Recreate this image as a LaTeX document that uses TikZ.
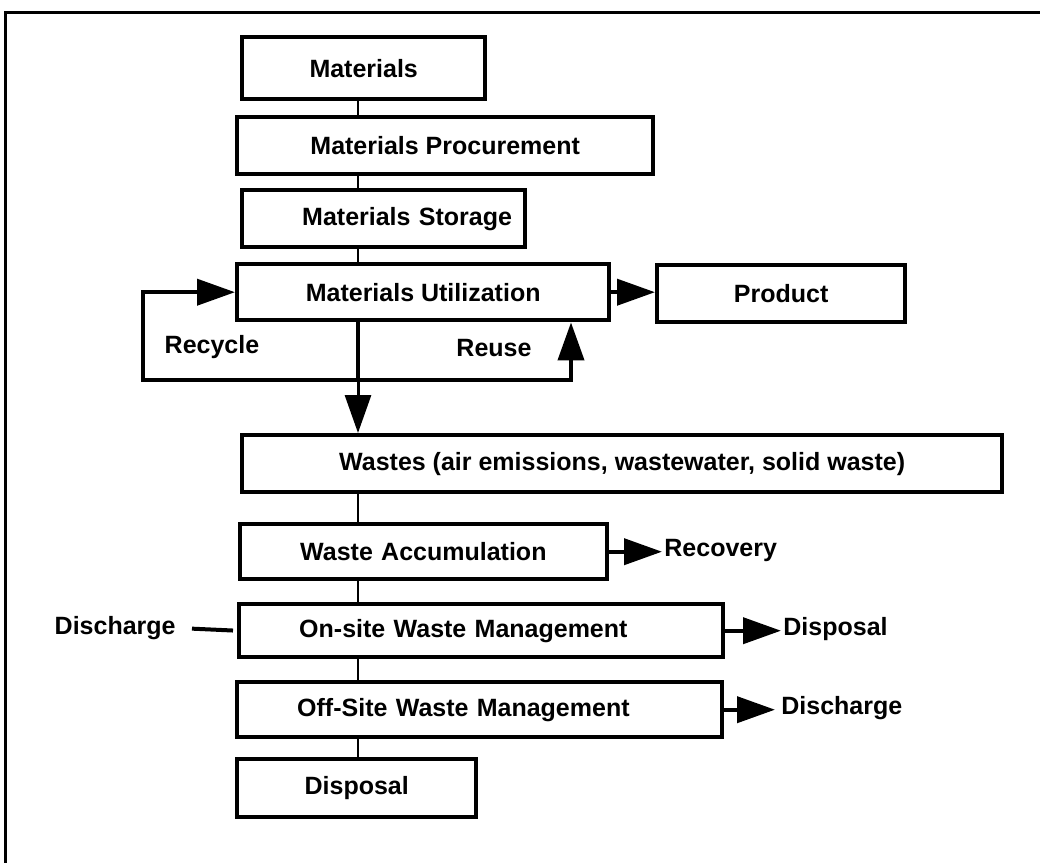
\documentclass[tikz,border=0pt]{standalone}
\usepackage{fontspec}
\setmainfont{Liberation Sans}
\usetikzlibrary{arrows.meta}
\tikzset{
  procbox/.style={draw=black, line width=2.2pt, fill=white, anchor=north west, inner sep=0pt, font=\fontsize{12.5}{15}\selectfont\bfseries},
  indent/.style={align=left, execute at begin node={\hspace*{30pt}}},
  tag/.style={inner sep=1pt, font=\fontsize{12.5}{15}\selectfont\bfseries},
  link/.style={line width=1.2pt, draw=black},
  loopline/.style={line width=2pt, draw=black},
  flowarrow/.style={-{Triangle[length=19pt,width=13pt]}, line width=2pt, draw=black}
}
\begin{document}
\begin{tikzpicture}[x=0.5pt,y=-0.5pt]
\useasboundingbox (0,0) rectangle (1040,863);
\draw[line width=1.5pt] (1040,12) -- (5,12) -- (5,863);
\node[procbox,minimum width=121.5pt,minimum height=31pt] (mat) at (240,35) {Materials};
\node[procbox,minimum width=208pt,minimum height=28.5pt] (proc) at (235,115) {Materials Procurement};
\node[procbox,indent,text width=141.5pt,minimum height=28.5pt] (stor) at (240,188) {Materials Storage};
\node[procbox,minimum width=186pt,minimum height=28pt] (util) at (235,262) {Materials Utilization};
\node[procbox,minimum width=124pt,minimum height=28.5pt] (prod) at (655,263) {Product};
\node[procbox,minimum width=380pt,minimum height=28.5pt] (waste) at (240,433) {Wastes (air emissions, wastewater, solid waste)};
\node[procbox,indent,text width=183.5pt,minimum height=27.5pt] (accum) at (238,522) {Waste Accumulation};
\node[procbox,indent,text width=242pt,minimum height=26.5pt] (onsite) at (237,602) {On-site Waste Management};
\node[procbox,indent,text width=242.5pt,minimum height=27.5pt] (offsite) at (235,680) {Off-Site Waste Management};
\node[procbox,minimum width=119.5pt,minimum height=29pt] (disp) at (235,757) {Disposal};
\node[tag] (recyc) at (212,347) {Recycle};
\node[tag] (reuse) at (494,348) {Reuse};
\node[tag,anchor=west] (recov) at (662,550) {Recovery};
\node[tag,anchor=west] (dispr) at (781,629) {Disposal};
\node[tag,anchor=west] (dischr) at (779,708) {Discharge};
\node[tag,anchor=east] (dischl) at (178,628) {Discharge};
\coordinate (spine) at (358,0);
\coordinate (fork) at (358,380);
\coordinate (recl) at (143,0);
\coordinate (reul) at (571,0);
\foreach \u/\v in {mat/proc,proc/stor,stor/util,waste/accum,accum/onsite,onsite/offsite,offsite/disp}{\draw[link] (\u.south -| spine) -- (\v.north -| spine);}
\draw[loopline] (util.south -| spine) -- (fork);
\draw[flowarrow] (fork) -| (recl |- util.west) -- (util.west);
\draw[flowarrow] (fork) -| (util.south -| reul);
\draw[flowarrow,line width=1.5pt] (fork) -- (waste.north -| spine);
\draw[flowarrow] (util.east) -- (util.east -| prod.west);
\draw[flowarrow] (accum.east) -- (accum.east -| recov.west);
\draw[flowarrow] (onsite.east) -- (onsite.east -| dispr.west);
\draw[flowarrow,shorten >=2pt] (offsite.east) -- (offsite.east -| dischr.west);
\draw[loopline,shorten <=7pt,shorten >=2pt] (dischl.east) -- (onsite.west);
\end{tikzpicture}
\end{document}
